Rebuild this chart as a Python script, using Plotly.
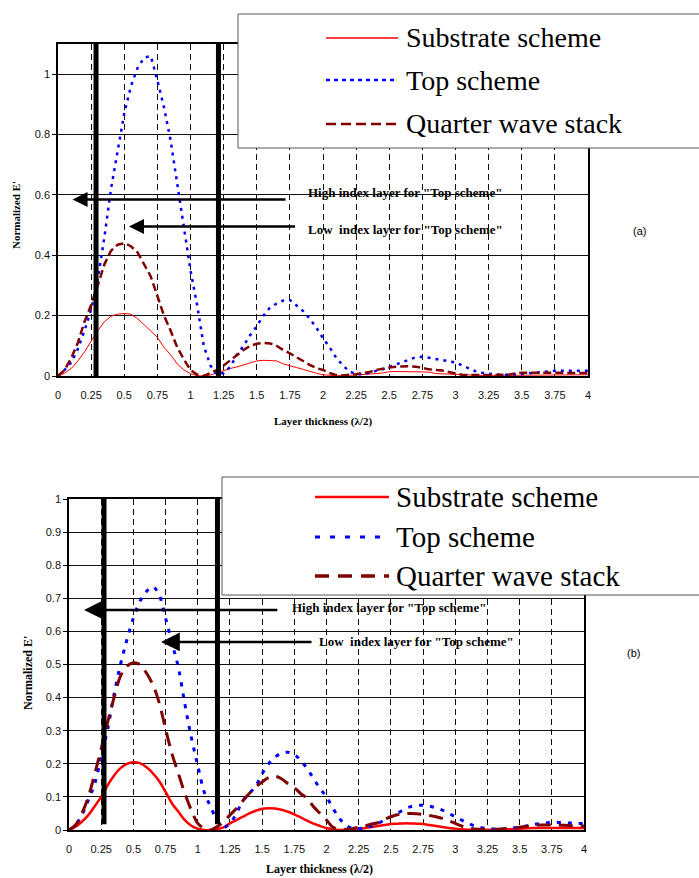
import plotly.graph_objects as go

W, H = 699, 878

thickness = [0, 0.05, 0.1, 0.15, 0.2, 0.25, 0.3, 0.35, 0.4, 0.45,
             0.5, 0.55, 0.6, 0.65, 0.7, 0.75, 0.8, 0.85, 0.9, 0.95,
             1.0, 1.05, 1.1, 1.15, 1.2, 1.25, 1.3, 1.35, 1.4, 1.45,
             1.5, 1.55, 1.6, 1.65, 1.7, 1.75, 1.8, 1.85, 1.9, 1.95,
             2.0, 2.05, 2.1, 2.15, 2.2, 2.25, 2.3, 2.35, 2.4, 2.45,
             2.5, 2.55, 2.6, 2.65, 2.7, 2.75, 2.8, 2.85, 2.9, 2.95,
             3.0, 3.05, 3.1, 3.15, 3.2, 3.25, 3.3, 3.35, 3.4, 3.45,
             3.5, 3.55, 3.6, 3.65, 3.7, 3.75, 3.8, 3.85, 3.9, 3.95,
             4.0]

# ---------- panel (a) ----------
substrate_a = [0, 0.01, 0.025, 0.05, 0.08, 0.115, 0.15, 0.18, 0.198, 0.205,
               0.207, 0.205, 0.19, 0.17, 0.15, 0.128, 0.095, 0.07, 0.04, 0.02,
               0.008, 0.001, 0.0, 0.003, 0.01, 0.018, 0.025, 0.03, 0.036, 0.042,
               0.05, 0.052, 0.052, 0.05, 0.04, 0.033, 0.028, 0.022, 0.015, 0.009,
               0.004, 0.002, 0.001, 0.001, 0.002, 0.003, 0.005, 0.006, 0.008, 0.01,
               0.014, 0.015, 0.015, 0.015, 0.015, 0.015, 0.013, 0.008, 0.007, 0.007,
               0.006, 0.003, 0.002, 0.002, 0.002, 0.002, 0.002, 0.002, 0.002, 0.002,
               0.002, 0.003, 0.003, 0.003, 0.004, 0.004, 0.004, 0.004, 0.004, 0.004,
               0.004]
top_a = [0, 0.02, 0.045, 0.09, 0.15, 0.22, 0.32, 0.46, 0.62, 0.74,
         0.87, 0.96, 1.02, 1.055, 1.06, 0.98, 0.89, 0.78, 0.64, 0.5,
         0.35, 0.235, 0.1, 0.035, 0.005, 0.01, 0.03, 0.07, 0.1, 0.135,
         0.165, 0.2, 0.227, 0.24, 0.25, 0.252, 0.235, 0.215, 0.19, 0.16,
         0.125, 0.095, 0.06, 0.035, 0.015, 0.006, 0.006, 0.01, 0.017, 0.022,
         0.03, 0.038, 0.046, 0.056, 0.062, 0.064, 0.06, 0.056, 0.053, 0.05,
         0.045, 0.035, 0.025, 0.016, 0.011, 0.007, 0.005, 0.004, 0.004, 0.005,
         0.007, 0.009, 0.012, 0.014, 0.016, 0.017, 0.017, 0.017, 0.017, 0.017,
         0.017]
qws_a = [0, 0.02, 0.06, 0.11, 0.18, 0.235, 0.3, 0.37, 0.415, 0.435,
         0.44, 0.43, 0.41, 0.37, 0.33, 0.265, 0.2, 0.15, 0.095, 0.055,
         0.02, 0.005, 0.0, 0.01, 0.02, 0.035, 0.053, 0.07, 0.086, 0.1,
         0.107, 0.11, 0.108, 0.1, 0.086, 0.075, 0.062, 0.05, 0.037, 0.026,
         0.02, 0.01, 0.003, 0.002, 0.003, 0.006, 0.01, 0.013, 0.02, 0.025,
         0.028, 0.031, 0.032, 0.032, 0.031, 0.026, 0.022, 0.02, 0.018, 0.013,
         0.008, 0.004, 0.003, 0.003, 0.003, 0.003, 0.003, 0.003, 0.004, 0.008,
         0.011, 0.011, 0.011, 0.01, 0.01, 0.01, 0.01, 0.01, 0.01, 0.01,
         0.01]

# ---------- panel (b) ----------
substrate_b = [0, 0.01, 0.025, 0.045, 0.072, 0.1, 0.135, 0.165, 0.187, 0.2,
               0.205, 0.202, 0.19, 0.172, 0.148, 0.115, 0.08, 0.055, 0.03, 0.013,
               0.004, 0.0, 0.0, 0.003, 0.008, 0.02, 0.03, 0.04, 0.05, 0.058,
               0.064, 0.066, 0.065, 0.061, 0.055, 0.047, 0.038, 0.028, 0.019, 0.012,
               0.006, 0.002, 0.0, 0.0, 0.001, 0.003, 0.006, 0.009, 0.012, 0.015,
               0.018, 0.019, 0.02, 0.02, 0.019, 0.018, 0.015, 0.012, 0.009, 0.006,
               0.004, 0.002, 0.001, 0.001, 0.001, 0.001, 0.001, 0.001, 0.002, 0.003,
               0.004, 0.005, 0.006, 0.006, 0.006, 0.006, 0.006, 0.006, 0.006, 0.006,
               0.006]
top_b = [0, 0.015, 0.045, 0.09, 0.14, 0.22, 0.305, 0.41, 0.5, 0.575,
         0.64, 0.69, 0.72, 0.735, 0.71, 0.64, 0.565, 0.49, 0.38, 0.28,
         0.195, 0.115, 0.07, 0.03, 0.008, 0.02, 0.05, 0.088, 0.11, 0.133,
         0.17, 0.2, 0.22, 0.232, 0.235, 0.228, 0.21, 0.185, 0.155, 0.125,
         0.1, 0.066, 0.035, 0.015, 0.005, 0.004, 0.007, 0.012, 0.02, 0.03,
         0.04, 0.05, 0.062, 0.07, 0.074, 0.075, 0.072, 0.067, 0.06, 0.05,
         0.04, 0.03, 0.02, 0.012, 0.007, 0.004, 0.003, 0.003, 0.004, 0.006,
         0.009, 0.012, 0.016, 0.019, 0.021, 0.023, 0.023, 0.022, 0.021, 0.02,
         0.02]
qws_b = [0, 0.015, 0.05, 0.1, 0.17, 0.245, 0.325, 0.4, 0.465, 0.495,
         0.505, 0.5, 0.475, 0.44, 0.385, 0.305, 0.23, 0.17, 0.11, 0.06,
         0.02, 0.005, 0.0, 0.01, 0.025, 0.045, 0.065, 0.088, 0.11, 0.13,
         0.145, 0.158, 0.162, 0.155, 0.14, 0.128, 0.11, 0.095, 0.07, 0.05,
         0.03, 0.008, 0.002, 0.002, 0.004, 0.008, 0.012, 0.018, 0.022, 0.032,
         0.04, 0.046, 0.049, 0.05, 0.049, 0.047, 0.044, 0.04, 0.035, 0.028,
         0.02, 0.012, 0.006, 0.003, 0.002, 0.002, 0.002, 0.003, 0.004, 0.005,
         0.008, 0.011, 0.014, 0.015, 0.015, 0.015, 0.015, 0.014, 0.013, 0.012,
         0.012]

series_names = ["Substrate scheme", "Top scheme", "Quarter wave stack"]
x_tickvals = [0, 0.25, 0.5, 0.75, 1, 1.25, 1.5, 1.75, 2, 2.25, 2.5, 2.75, 3, 3.25, 3.5, 3.75, 4]
x_ticktext = ["0", "0.25", "0.5", "0.75", "1", "1.25", "1.5", "1.75", "2", "2.25",
              "2.5", "2.75", "3", "3.25", "3.5", "3.75", "4"]
ya_tickvals = [0, 0.2, 0.4, 0.6, 0.8, 1.0]
ya_ticktext = ["0", "0.2", "0.4", "0.6", "0.8", "1"]
yb_tickvals = [0, 0.1, 0.2, 0.3, 0.4, 0.5, 0.6, 0.7, 0.8, 0.9, 1.0]
yb_ticktext = ["0", "0.1", "0.2", "0.3", "0.4", "0.5", "0.6", "0.7", "0.8", "0.9", "1"]

# layer boundaries (thick vertical markers) and annotation texts
bounds_a = [0.287, 1.211]
bounds_b = [0.272, 1.153]
arrow_text_high = 'High index layer for "Top scheme"'
arrow_text_low = 'Low  index layer for "Top scheme"'

RED = "#ff0000"
BLUE = "#0000ff"
DRED = "#800000"

def PX(px):
    return px / W

def PY(py):
    return 1 - py / H

fig = go.Figure()

# panel (a) traces
fig.add_trace(go.Scatter(x=thickness, y=substrate_a, mode="lines", name=series_names[0],
                         line=dict(color=RED, width=1), xaxis="x", yaxis="y", showlegend=False))
fig.add_trace(go.Scatter(x=thickness, y=top_a, mode="lines", name=series_names[1],
                         line=dict(color=BLUE, width=2.5, dash="3px,5px"), xaxis="x", yaxis="y",
                         showlegend=False))
fig.add_trace(go.Scatter(x=thickness, y=qws_a, mode="lines", name=series_names[2],
                         line=dict(color=DRED, width=2.5, dash="8px,4px"), xaxis="x", yaxis="y",
                         showlegend=False))
# panel (b) traces
fig.add_trace(go.Scatter(x=thickness, y=substrate_b, mode="lines", name=series_names[0],
                         line=dict(color=RED, width=2.5, shape="spline"), xaxis="x2", yaxis="y2",
                         showlegend=False))
fig.add_trace(go.Scatter(x=thickness, y=top_b, mode="lines", name=series_names[1],
                         line=dict(color=BLUE, width=3, dash="4px,7px", shape="spline"),
                         xaxis="x2", yaxis="y2", showlegend=False))
fig.add_trace(go.Scatter(x=thickness, y=qws_b, mode="lines", name=series_names[2],
                         line=dict(color=DRED, width=3, dash="14px,8px", shape="spline"),
                         xaxis="x2", yaxis="y2", showlegend=False))

tickfont = dict(family="Arial, Liberation Sans", size=11, color="#111")

common_x = dict(range=[0, 4], tickvals=x_tickvals, ticktext=x_ticktext, showgrid=True,
                gridcolor="#111", gridwidth=1, griddash="6px,4px", showline=True,
                linecolor="black", linewidth=1.5, mirror=True, ticks="", zeroline=False,
                tickfont=tickfont, ticklabelstandoff=8, fixedrange=True, automargin=False)
common_y = dict(showgrid=True, gridcolor="#111", gridwidth=1, showline=True, linecolor="black",
                linewidth=1.5, mirror=True, ticks="outside", ticklen=4, tickcolor="black",
                zeroline=False, tickfont=tickfont, fixedrange=True, automargin=False)

fig.update_layout(
    width=W, height=H, margin=dict(l=0, r=0, t=0, b=0, autoexpand=False),
    paper_bgcolor="white", plot_bgcolor="white", showlegend=False,
    xaxis=dict(domain=[PX(58), PX(588)], anchor="y", **common_x),
    yaxis=dict(domain=[PY(376), PY(44)], anchor="x", range=[0, 1.1],
               tickvals=ya_tickvals, ticktext=ya_ticktext, **common_y),
    xaxis2=dict(domain=[PX(69), PX(584)], anchor="y2", **common_x),
    yaxis2=dict(domain=[PY(830), PY(499)], anchor="x2", range=[0, 1],
                tickvals=yb_tickvals, ticktext=yb_ticktext, **common_y),
)

shapes = []
# thick vertical boundary lines
for xv in bounds_a:
    shapes.append(dict(type="line", xref="x", yref="y", x0=xv, x1=xv, y0=0, y1=1.1,
                       line=dict(color="black", width=5), layer="above"))
for xv in bounds_b:
    shapes.append(dict(type="line", xref="x2", yref="y2", x0=xv, x1=xv, y0=0.017, y1=1.0,
                       line=dict(color="black", width=5), layer="above"))

# legend boxes drawn manually
def legend(box, xs, rows, widths, dashes, size):
    shapes.append(dict(type="rect", xref="paper", yref="paper",
                       x0=PX(box[0]), x1=PX(box[1]), y0=PY(box[3]), y1=PY(box[2]),
                       fillcolor="white", line=dict(color="#555", width=1), layer="above"))
    cols = [RED, BLUE, DRED]
    for i, ry in enumerate(rows):
        shapes.append(dict(type="line", xref="paper", yref="paper",
                           x0=PX(xs[0]), x1=PX(xs[1]), y0=PY(ry), y1=PY(ry),
                           line=dict(color=cols[i], width=widths[i], dash=dashes[i]),
                           layer="above"))
        fig.add_annotation(xref="paper", yref="paper", x=PX(xs[2]), y=PY(ry), xanchor="left",
                           yanchor="middle", showarrow=False, text=series_names[i],
                           font=dict(family="Liberation Serif, Times New Roman", size=size,
                                     color="black"))

legend((238, 705, 14, 148), (326, 398, 404), (38, 80, 124), (1.5, 2.5, 2.5),
       ("solid", "4px,4px", "10px,5px"), 28)
legend((222, 705, 477, 595), (315, 389, 394), (497, 537, 576), (2.5, 3, 3.5),
       ("solid", "5px,10px", "14px,9px"), 29)

fig.update_layout(shapes=shapes)

# arrows
arrow_cfg = dict(showarrow=True, arrowhead=2, arrowsize=1.2, arrowwidth=2.5, arrowcolor="black",
                 text="", standoff=0, startstandoff=0)
fig.add_annotation(xref="x", yref="y", axref="x", ayref="y", x=0.11, y=0.585, ax=1.728, ay=0.585,
                   **arrow_cfg)
fig.add_annotation(xref="x", yref="y", axref="x", ayref="y", x=0.536, y=0.495, ax=1.80, ay=0.495,
                   **arrow_cfg)
fig.add_annotation(xref="x2", yref="y2", axref="x2", ayref="y2", x=0.117, y=0.665, ax=1.63,
                   ay=0.665, **dict(arrow_cfg, arrowsize=1.5))
fig.add_annotation(xref="x2", yref="y2", axref="x2", ayref="y2", x=0.715, y=0.568, ax=1.895,
                   ay=0.568, **dict(arrow_cfg, arrowsize=1.5))

lblfont = dict(family="Liberation Serif, Times New Roman", size=13, color="black")
fig.add_annotation(xref="x", yref="y", x=1.872, y=0.608, xanchor="left", yanchor="middle",
                   text="<b>" + arrow_text_high + "</b>", showarrow=False, font=lblfont)
fig.add_annotation(xref="x", yref="y", x=1.872, y=0.485, xanchor="left", yanchor="middle",
                   text="<b>" + arrow_text_low + "</b>", showarrow=False, font=lblfont)
fig.add_annotation(xref="x2", yref="y2", x=1.716, y=0.671, xanchor="left", yanchor="middle",
                   text="<b>" + arrow_text_high + "</b>", showarrow=False, font=lblfont)
fig.add_annotation(xref="x2", yref="y2", x=1.926, y=0.568, xanchor="left", yanchor="middle",
                   text="<b>" + arrow_text_low + "</b>", showarrow=False, font=lblfont)

# panel tags
tagfont = dict(family="Arial, Liberation Sans", size=11, color="black")
fig.add_annotation(xref="paper", yref="paper", x=PX(639), y=PY(231), text="(a)", showarrow=False,
                   xanchor="center", yanchor="middle", font=tagfont)
fig.add_annotation(xref="paper", yref="paper", x=PX(633), y=PY(653), text="(b)", showarrow=False,
                   xanchor="center", yanchor="middle", font=tagfont)

# axis titles
ttl = dict(family="Liberation Serif, Times New Roman", size=11, color="black")
fig.add_annotation(xref="paper", yref="paper", x=PX(323), y=PY(421), xanchor="center",
                   yanchor="middle", text="<b>Layer thickness (λ/2)</b>", showarrow=False,
                   font=ttl)
fig.add_annotation(xref="paper", yref="paper", x=PX(319), y=PY(869), xanchor="center",
                   yanchor="middle", text="<b>Layer thickness (λ/2)</b>", showarrow=False,
                   font=dict(ttl, size=12))
fig.add_annotation(xref="paper", yref="paper", x=PX(16), y=PY(215), xanchor="center",
                   yanchor="middle", textangle=-90, text="<b>Normalized E'</b>",
                   showarrow=False, font=ttl)
fig.add_annotation(xref="paper", yref="paper", x=PX(28), y=PY(673), xanchor="center",
                   yanchor="middle", textangle=-90, text="<b>Normalized E'</b>",
                   showarrow=False, font=dict(ttl, size=12))

fig.write_html("out.html", config={"displayModeBar": False},
               post_script="document.body.style.margin='0';document.body.style.overflow='hidden';")
